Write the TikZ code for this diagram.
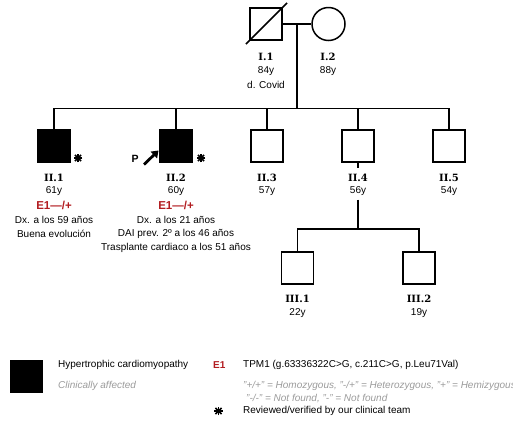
\documentclass[tikz,border=0pt]{standalone}
\usepackage{fontspec}
\setmainfont{Liberation Sans}
\newfontfamily\labfont{DejaVu Serif}
\usetikzlibrary{arrows.meta,calc}
\definecolor{ered}{RGB}{178,28,32}
\definecolor{lgray}{RGB}{155,155,155}
\tikzset{
  ln/.style={line width=1.5pt},
  male/.style={draw, line width=1.5pt, minimum size=32pt, inner sep=0pt},
  affected/.style={male, fill=black},
  female/.style={draw, circle, line width=1.5pt, minimum size=33pt, inner sep=0pt},
  idlab/.style={font=\labfont\bfseries\fontsize{10}{11}\selectfont, inner sep=0pt},
  info/.style={font=\fontsize{10}{11}\selectfont, inner sep=0pt},
  geno/.style={font=\bfseries\fontsize{11.5}{12}\selectfont, text=ered, inner sep=0pt},
  legt/.style={font=\fontsize{10}{11}\selectfont, inner sep=0pt, anchor=west},
  legg/.style={font=\itshape\fontsize{10}{11}\selectfont, text=lgray, inner sep=0pt, anchor=west},
}
\newcommand\astk[1]{%
  \foreach \ang in {0,45,90,135} {\draw[line width=1.5pt] (#1) ++(\ang:4.4) -- ++(\ang+180:8.8);}
  \fill (#1) circle (2pt);}
\begin{document}
\begin{tikzpicture}[x=1pt,y=-1pt]
\useasboundingbox (0,0) rectangle (513,424);
% generation I
\node[male] (I1) at (266,24) {};
\node[female] (I2) at (328.5,24) {};
\coordinate (slA) at (246,44);
\coordinate (slB) at (287,3);
\draw[ln] (slA) -- (slB);
\draw[ln] (I1.east) -- (I2.west);
\coordinate (mar) at ($(I1.east)!0.5!(I2.west)$);
\node[idlab] (I1l) at (266,57) {I.1};
\node[info] (I1a) at (266,71) {84y};
\node[info] (I1b) at (266,85) {d. Covid};
\node[idlab] (I2l) at (328,57) {I.2};
\node[info] (I2a) at (328,71) {88y};
% generation II
\coordinate (sib) at (0,108.5);
\node[affected] (II1) at (54,146) {};
\node[affected] (II2) at (176,146) {};
\node[male] (II3) at (267,146) {};
\node[male] (II4) at (358,146) {};
\node[male] (II5) at (449,146) {};
\draw[ln] (mar) -- (mar |- sib);
\draw[ln] (II1.north) -- (II1 |- sib) -- (II5 |- sib) -- (II5.north);
\draw[ln] (II2.north) -- (II2 |- sib);
\draw[ln] (II3.north) -- (II3 |- sib);
\draw[ln] (II4.north) -- (II4 |- sib);
% asterisks and proband
\coordinate (as1) at (78,158);
\coordinate (as2) at (201,158);
\astk{as1}
\astk{as2}
\node[font=\bfseries\fontsize{10.5}{11}\selectfont, inner sep=0pt] (P) at (135,159) {P};
\coordinate (pa) at (144,164.5);
\coordinate (pb) at (158.5,150.5);
\draw[line width=2.8pt, -{Triangle[length=6.5pt,width=9pt]}] (pa) -- (pb);
% II labels
\node[idlab] (II1l) at (54,178) {II.1};
\node[info] (II1a) at (54,191.5) {61y};
\node[geno] (II1g) at (54,205.5) {E1—/+};
\node[info] (II1c) at (54,219.5) {Dx. a los 59 años};
\node[info] (II1d) at (54,233.5) {Buena evolución};
\node[idlab] (II2l) at (176,178) {II.2};
\node[info] (II2a) at (176,191.5) {60y};
\node[geno] (II2g) at (176,205.5) {E1—/+};
\node[info] (II2c) at (176,219.5) {Dx. a los 21 años};
\node[info] (II2d) at (176,233.5) {DAI prev. 2º a los 46 años};
\node[info] (II2e) at (176,247.5) {Trasplante cardiaco a los 51 años};
\node[idlab] (II3l) at (267,178) {II.3};
\node[info] (II3a) at (267,191.5) {57y};
\node[idlab] (II4l) at (358,178) {II.4};
\node[info] (II4a) at (358,191.5) {56y};
\node[idlab] (II5l) at (449,178) {II.5};
\node[info] (II5a) at (449,191.5) {54y};
% generation III
\coordinate (d4a) at (358,168);
\coordinate (d4b) at (358,199.5);
\coordinate (sib3) at (358,229);
\draw[ln] (II4.south) -- (d4a);
\draw[ln] (d4b) -- (sib3);
\node[male] (III1) at (297.5,268) {};
\node[male] (III2) at (419,268) {};
\draw[ln] (III1.north) |- (sib3);
\draw[ln] (III2.north) |- (sib3);
\node[idlab] (III1l) at (297.5,299) {III.1};
\node[info] (III1a) at (297.5,313) {22y};
\node[idlab] (III2l) at (419,299) {III.2};
\node[info] (III2a) at (419,313) {19y};
% legend
\node[affected] (lsq) at (26.5,376.5) {};
\node[legt] (lhc) at (58,365) {Hypertrophic cardiomyopathy};
\node[legg] (lca) at (58,386) {Clinically affected};
\node[legt, font=\bfseries\fontsize{10}{11}\selectfont, text=ered] (lE1) at (213,365) {E1};
\node[legt] (ltpm) at (243,365) {TPM1 (g.63336322C>G, c.211C>G, p.Leu71Val)};
\node[legg] (lz1) at (243,386) {"+/+" = Homozygous, "-/+" = Heterozygous, "+" = Hemizygous};
\node[legg] (lz2) at (246,399) {"-/-" = Not found, "-" = Not found};
\coordinate (las) at (218.5,411);
\astk{las}
\node[legt] (lrv) at (243,411) {Reviewed/verified by our clinical team};
\end{tikzpicture}
\end{document}
